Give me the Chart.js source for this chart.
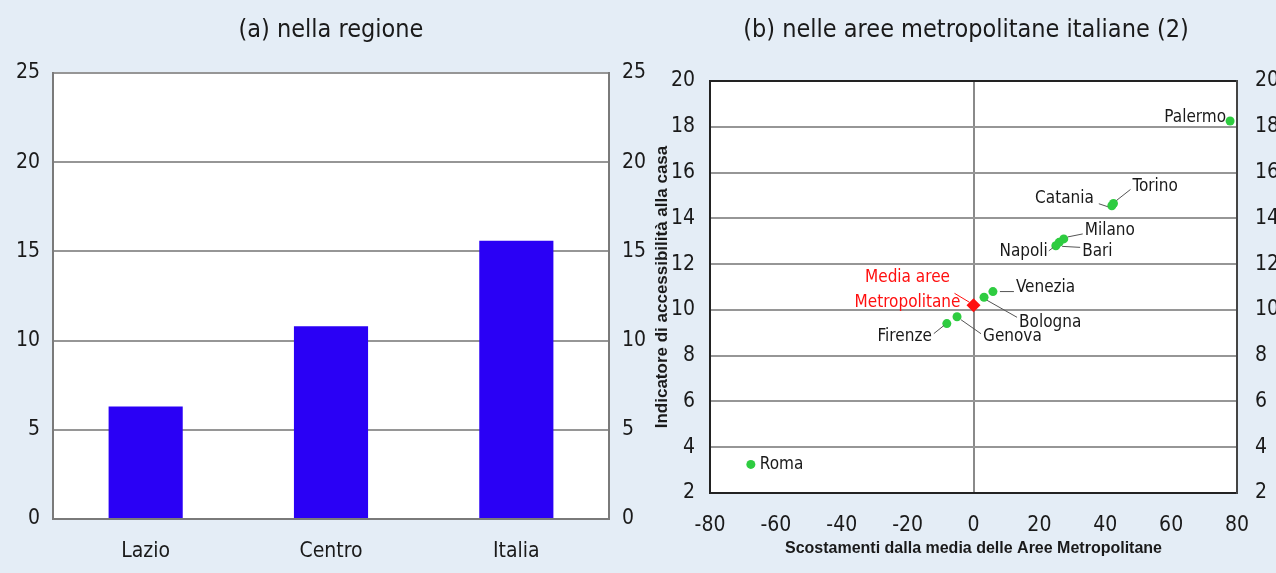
<!DOCTYPE html>
<html>
<head>
<meta charset="utf-8">
<script src="https://cdn.jsdelivr.net/npm/chart.js@4.4.1/dist/chart.umd.min.js"></script>
<style>
  html, body { margin:0; padding:0; background:#e4edf6; width:1276px; height:573px; overflow:hidden; }
  .box { position:absolute; top:0; }
  canvas { display:block; }
</style>
</head>
<body>
<div class="box" style="left:0;width:660px;height:573px;"><canvas id="c1" width="660" height="573"></canvas></div>
<div class="box" style="left:640px;width:636px;height:573px;"><canvas id="c2" width="636" height="573"></canvas></div>
<script>
// ---------- DATA ----------
const regionCategories = ["Lazio", "Centro", "Italia"];
const regionValues = [6.3, 10.8, 15.6];
const regionTicks = [0, 5, 10, 15, 20, 25];

const metroNames = ["Palermo", "Torino", "Catania", "Milano", "Bari", "Napoli", "Venezia", "Bologna", "Genova", "Firenze", "Roma"];
const metroX = [77.9, 42.5, 42.0, 27.4, 26.0, 25.0, 5.9, 3.2, -5.0, -8.1, -67.6];
const metroY = [18.25, 14.65, 14.55, 13.1, 12.95, 12.8, 10.8, 10.55, 9.7, 9.4, 3.25];
const mediaName = ["Media aree", "Metropolitane"];
const mediaX = [0];
const mediaY = [10.2];
const metroXTicks = [-80, -60, -40, -20, 0, 20, 40, 60, 80];
const metroYTicks = [2, 4, 6, 8, 10, 12, 14, 16, 18, 20];

// ---------- STYLE ----------
const NARROW = "'Liberation Sans Narrow', 'Arial Narrow', 'DejaVu Sans Condensed', sans-serif";
const BOLD = "'Liberation Sans', Arial, sans-serif";
const TXT = '#1a1a1a';
const GRID = '#969696';
Chart.defaults.font.family = NARROW;
Chart.defaults.color = TXT;
Chart.defaults.animation = false;

const plotBg = {
  id: 'plotBg',
  beforeDraw(chart) {
    const {ctx, chartArea: a} = chart;
    ctx.save(); ctx.fillStyle = '#ffffff';
    ctx.fillRect(a.left, a.top, a.right - a.left, a.bottom - a.top);
    ctx.restore();
  }
};
const titlePlugin = {
  id: 'panelTitle',
  afterDraw(chart, args, opts) {
    const ctx = chart.ctx;
    ctx.save();
    ctx.font = `25px ${NARROW}`;
    ctx.fillStyle = TXT; ctx.textAlign = 'center'; ctx.textBaseline = 'middle';
    ctx.fillText(opts.text, opts.x, opts.y);
    ctx.restore();
  }
};

function fixW(w) { return s => { s.width = w; }; }
function fixH(h) { return s => { s.height = h; }; }

// ---------- LEFT: bar chart ----------
new Chart(document.getElementById('c1'), {
  type: 'bar',
  data: {
    labels: regionCategories,
    datasets: [{ data: regionValues, backgroundColor: '#2a00f5', borderWidth: 0,
                 barPercentage: 0.4, categoryPercentage: 1 }]
  },
  options: {
    responsive: false,
    layout: { padding: { top: 73, left: 0, right: 0, bottom: 0 } },
    plugins: { legend: { display: false }, tooltip: { enabled: false },
               panelTitle: { text: '(a) nella regione', x: 331, y: 30 } },
    scales: {
      x: { grid: { display: false }, border: { display: true, color: '#7a7a7a', width: 2 },
           ticks: { font: { size: 21 }, padding: 12, color: TXT }, afterFit: fixH(54) },
      y: { position: 'left', min: 0, max: 25, afterBuildTicks: s => { s.ticks = regionTicks.map(v => ({value: v})); },
           grid: { color: GRID, lineWidth: 2, drawTicks: false }, border: { display: true, color: '#7a7a7a', width: 2 },
           ticks: { font: { size: 21 }, padding: 13, color: TXT }, afterFit: fixW(53) },
      y2: { position: 'right', min: 0, max: 25, afterBuildTicks: s => { s.ticks = regionTicks.map(v => ({value: v})); },
           grid: { display: false, drawTicks: false }, border: { display: true, color: '#7a7a7a', width: 2 },
           ticks: { font: { size: 21 }, padding: 13, color: TXT }, afterFit: fixW(51) }
    }
  },
  plugins: [plotBg, titlePlugin]
});

// ---------- RIGHT: scatter ----------
// label placement (pixel offsets from each point): text anchor + leader line
const LABEL_LAYOUT = {
  Palermo: { dx: -4, dy: -3, align: 'right' },
  Torino:  { dx: 19, dy: -17, align: 'left', line: [3, -3, 17, -14] },
  Catania: { dx: -18, dy: -7, align: 'right', line: [-4, 1, -13, -2] },
  Milano:  { dx: 21, dy: -8, align: 'left', line: [4, -2, 19, -5] },
  Bari:    { dx: 23, dy: 9, align: 'left', line: [3, 4, 21, 5] },
  Napoli:  { dx: -8, dy: 6, align: 'right', line: [-3, 2, -7, 5] },
  Venezia: { dx: 23, dy: -4, align: 'left', line: [7, 0, 21, 0] },
  Bologna: { dx: 35, dy: 25, align: 'left', line: [3, 3, 33, 20] },
  Genova:  { dx: 26, dy: 20, align: 'left', line: [4, 3, 24, 17] },
  Firenze: { dx: -15, dy: 13, align: 'right', line: [-3, 2, -13, 10] },
  Roma:    { dx: 9, dy: 0, align: 'left' },
  Media:   { dx: -66, dy: -28, dy2: -3, align: 'center', line: [-4, -3, -19, -12] }
};

const pointLabels = {
  id: 'pointLabels',
  afterDatasetsDraw(chart) {
    const ctx = chart.ctx;
    ctx.save();
    ctx.textBaseline = 'middle';
    ctx.font = `17px ${NARROW}`;
    const drawOne = (px, py, L, texts, color) => {
      if (L.line) {
        ctx.strokeStyle = color === TXT ? '#555' : color; ctx.lineWidth = 1;
        ctx.beginPath(); ctx.moveTo(px + L.line[0], py + L.line[1]); ctx.lineTo(px + L.line[2], py + L.line[3]); ctx.stroke();
      }
      ctx.fillStyle = color; ctx.textAlign = L.align;
      ctx.fillText(texts[0], px + L.dx, py + L.dy);
      if (texts[1]) ctx.fillText(texts[1], px + L.dx, py + L.dy2);
    };
    chart.getDatasetMeta(0).data.forEach((el, i) => {
      const name = metroNames[i];
      drawOne(el.x, el.y, LABEL_LAYOUT[name], [name], TXT);
    });
    const m = chart.getDatasetMeta(1).data[0];
    drawOne(m.x, m.y, LABEL_LAYOUT.Media, mediaName, '#ff1010');
    ctx.restore();
  }
};

new Chart(document.getElementById('c2'), {
  type: 'scatter',
  data: {
    datasets: [
      { data: metroX.map((x, i) => ({ x, y: metroY[i] })), backgroundColor: '#2ecc40', borderWidth: 0, pointRadius: 4.5 },
      { data: mediaX.map((x, i) => ({ x, y: mediaY[i] })), backgroundColor: '#ff1010', borderWidth: 0, pointRadius: 7, pointStyle: 'rectRot' }
    ]
  },
  options: {
    responsive: false,
    layout: { padding: { top: 81, left: 0, right: 0, bottom: 0 } },
    plugins: { legend: { display: false }, tooltip: { enabled: false },
               panelTitle: { text: '(b) nelle aree metropolitane italiane (2)', x: 326, y: 30 } },
    scales: {
      x: { type: 'linear', min: -80, max: 80,
           afterBuildTicks: s => { s.ticks = metroXTicks.map(v => ({value: v})); },
           grid: { color: c => c.tick && c.tick.value === 0 ? '#8a8a8a' : 'rgba(0,0,0,0)', lineWidth: 2, drawTicks: false },
           border: { display: true, color: '#222', width: 2 },
           ticks: { font: { size: 21 }, padding: 20, color: TXT },
           title: { display: true, text: 'Scostamenti dalla media delle Aree Metropolitane',
                    font: { family: BOLD, size: 16, weight: 'bold' }, color: TXT, padding: { top: 0, bottom: 15 } },
           afterFit: fixH(80) },
      y: { position: 'left', min: 2, max: 20,
           afterBuildTicks: s => { s.ticks = metroYTicks.map(v => ({value: v})); },
           grid: { color: c => c.tick && c.tick.value === 20 ? '#222' : GRID, lineWidth: 2, drawTicks: false },
           border: { display: true, color: '#222', width: 2 },
           ticks: { font: { size: 21 }, padding: 15, color: TXT },
           title: { display: true, text: 'Indicatore di accessibilità alla casa',
                    font: { family: BOLD, size: 17, weight: 'bold' }, color: TXT, padding: { top: 12, bottom: 0 } },
           afterFit: fixW(70) },
      y2: { position: 'right', min: 2, max: 20,
           afterBuildTicks: s => { s.ticks = metroYTicks.map(v => ({value: v})); },
           grid: { display: false, drawTicks: false }, border: { display: true, color: '#444', width: 2 },
           ticks: { font: { size: 21 }, padding: 18, color: TXT }, afterFit: fixW(39) }
    }
  },
  plugins: [plotBg, titlePlugin, pointLabels]
});
</script>
</body>
</html>
